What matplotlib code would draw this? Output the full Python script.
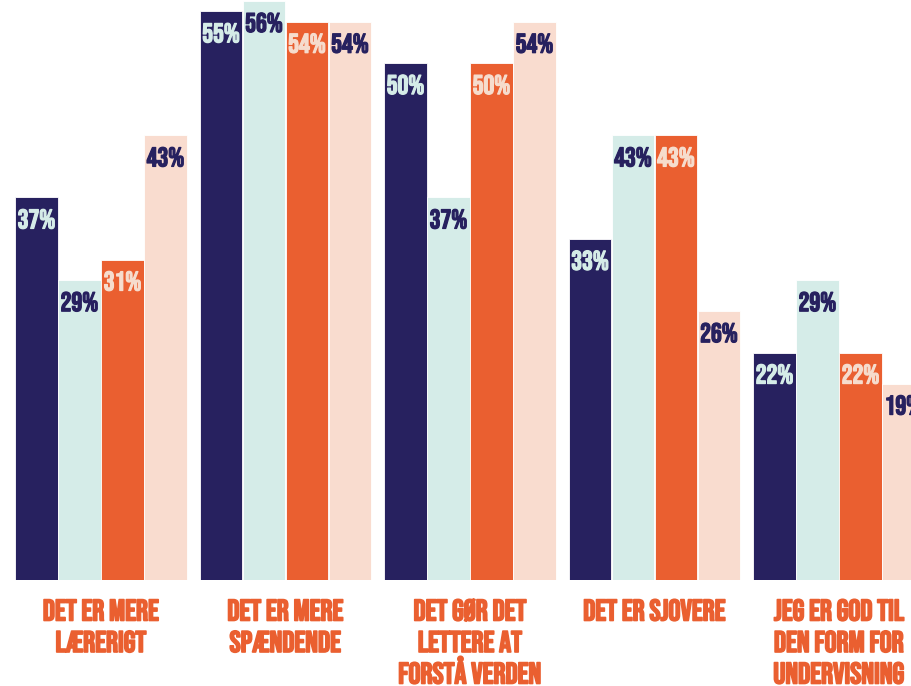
import matplotlib
matplotlib.use("Agg")
import matplotlib.pyplot as plt
import matplotlib.patheffects as pe
import numpy as np
import warnings
warnings.filterwarnings("ignore")

categories = ["DET ER MERE\nLÆRERIGT", "DET ER MERE\nSPÆNDENDE", "DET GØR DET\nLETTERE AT\nFORSTÅ VERDEN",
              "DET ER SJOVERE", "JEG ER GOD TIL\nDEN FORM FOR\nUNDERVISNING"]
navy_vals = [37, 55, 50, 33, 22]
mint_vals = [29, 56, 37, 43, 29]
orange_vals = [31, 54, 50, 43, 22]
peach_vals = [43, 54, 54, 26, 19]

series = [navy_vals, mint_vals, orange_vals, peach_vals]
bar_colors = ["#27215f", "#d5ece8", "#ea5f30", "#f9dccf"]
text_colors = ["#d5ece8", "#27215f", "#f6dccd", "#27215f"]
FONT = ["Bebas Neue", "Barlow Condensed", "Oswald", "DejaVu Sans"]

fig = plt.figure(figsize=(9.11, 6.86), dpi=100)
ax = fig.add_axes([0, 106 / 686, 1, 580 / 686])

x = np.arange(len(categories))
width = 0.228
step = 0.233
offsets = (np.arange(4) - 1.5) * step
PX = 72 / 100  # points per pixel

def heavy(color, lw):
    return [pe.withStroke(linewidth=lw, foreground=color)]

for s, vals in enumerate(series):
    bars = ax.bar(x + offsets[s], vals, width=width, color=bar_colors[s],
                  edgecolor="white", linewidth=0.6, zorder=2)
    for b, v in zip(bars, vals):
        ax.annotate(f"{v}%", (b.get_x() + b.get_width() / 2, v), xytext=(0, -31 * PX),
                    textcoords="offset points", ha="center", va="baseline",
                    fontsize=19.5, color=text_colors[s],
                    family=FONT, annotation_clip=False, clip_on=True, zorder=3,
                    path_effects=heavy(text_colors[s], 0.9))

for xi, cat in zip(x, categories):
    for li, line in enumerate(cat.split("\n")):
        ax.annotate(line, (xi, 0), xytext=(0, -(40.5 + 31.5 * li) * PX),
                    textcoords="offset points", ha="center", va="baseline",
                    fontsize=21.5, color="#ea5f30", family=FONT,
                    annotation_clip=False, path_effects=heavy("#ea5f30", 1.2))

ax.set_xlim(-101 / 184.5, (911 - 101) / 184.5)
ax.set_ylim(0, 56.1)
ax.axis("off")

fig.savefig("out.png", dpi=100)
